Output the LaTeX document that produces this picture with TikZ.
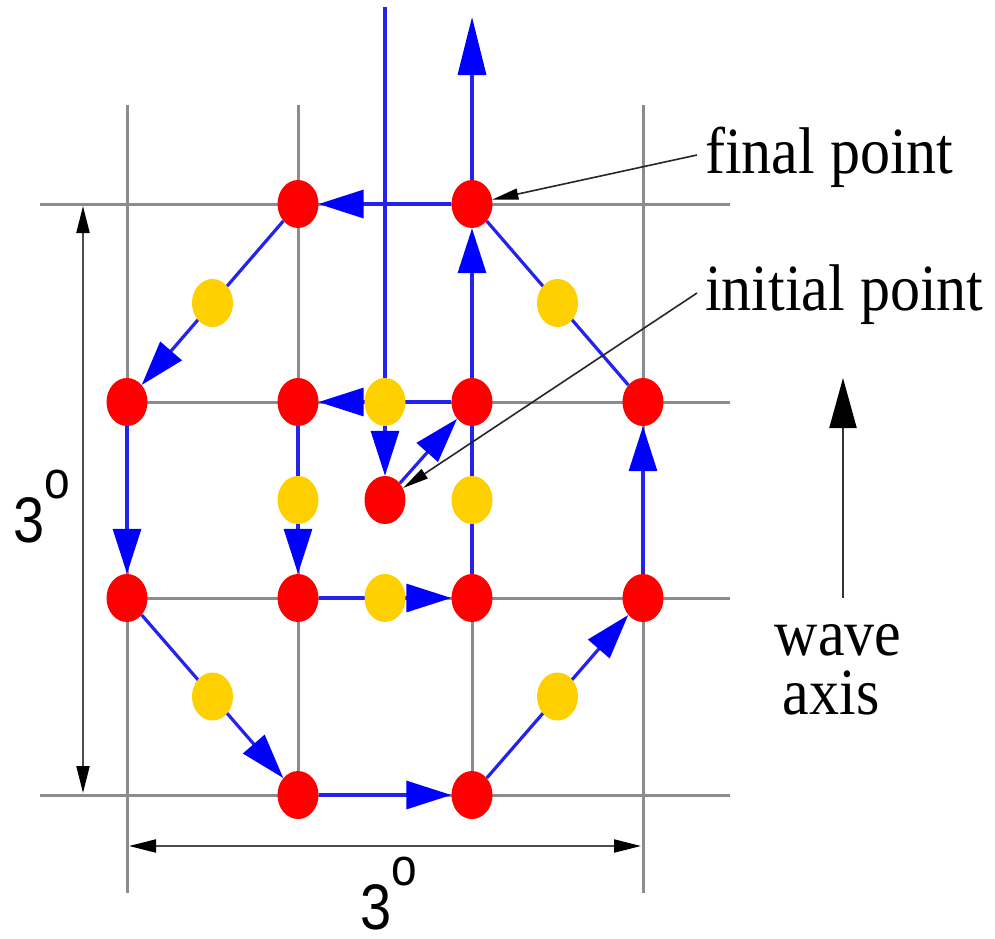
\documentclass[tikz,border=0pt]{standalone}
\usepackage{fontspec}
\setmainfont{Liberation Serif}
\newfontfamily\lsans{Liberation Sans}
\usetikzlibrary{arrows.meta,backgrounds,shapes.geometric}

\definecolor{gridgray}{RGB}{140,140,140}
\definecolor{dotred}{RGB}{255,0,0}
\definecolor{dotyellow}{RGB}{255,208,0}
\definecolor{pathblue}{RGB}{35,35,235}
\definecolor{tipblue}{RGB}{0,0,255}

\newcommand{\labfont}{\fontsize{60}{66}\selectfont}
\newcommand{\vstretch}[1]{\scalebox{1}[1.1]{#1}}
\newcommand{\threedeg}{\scalebox{1}[1.15]{\lsans\fontsize{56}{60}\selectfont 3\raisebox{38pt}{\fontsize{46}{50}\selectfont o}}}

\begin{document}
\begin{tikzpicture}[x=1pt,y=-1pt,
  dotbase/.style={ellipse, minimum width=41pt, minimum height=48pt, inner sep=0pt},
  reddot/.style={dotbase, fill=dotred},
  yeldot/.style={dotbase, fill=dotyellow},
  gridline/.style={gridgray, line width=3pt},
  bluepath/.style={pathblue, line width=3.2pt},
  bluearrow/.style={bluepath, -{Triangle[length=45pt,width=28pt,color=tipblue]}},
  bigbluearrow/.style={bluepath, -{Triangle[length=58pt,width=28pt,color=tipblue]}},
  leader/.style={black!85, line width=1.6pt, -{Triangle[length=26pt,width=11pt,color=black]}},
  axisarrow/.style={black!80, line width=2.2pt, -{Triangle[length=50pt,width=27pt,color=black]}},
  dimarrow/.style={black!70, line width=2pt, {Triangle[length=27pt,width=13pt,color=black]}-{Triangle[length=27pt,width=13pt,color=black]}},
  textlab/.style={font=\labfont, inner sep=0pt}
]
\useasboundingbox (0,0) rectangle (995,938);

% red dots
\node[reddot] (a1) at (298,204) {};
\node[reddot] (a2) at (472,204) {};
\node[reddot] (b0) at (127,402) {};
\node[reddot] (b1) at (298,402) {};
\node[reddot] (b2) at (472,402) {};
\node[reddot] (b3) at (643,402) {};
\node[reddot] (c)  at (385,500) {};
\node[reddot] (d0) at (127,598) {};
\node[reddot] (d1) at (298,598) {};
\node[reddot] (d2) at (472,598) {};
\node[reddot] (d3) at (643,598) {};
\node[reddot] (e1) at (298,795) {};
\node[reddot] (e2) at (472,795) {};

% yellow dots
\node[yeldot] (y1) at (212.5,303) {};
\node[yeldot] (y2) at (557.5,303) {};
\node[yeldot] (y3) at (385,402) {};
\node[yeldot] (y4) at (298,500) {};
\node[yeldot] (y5) at (472,500) {};
\node[yeldot] (y6) at (385,598) {};
\node[yeldot] (y7) at (212.5,696.5) {};
\node[yeldot] (y8) at (557.5,696.5) {};

% free ends
\coordinate (top1) at (385,7);
\coordinate (top2) at (472,17);

\begin{scope}[on background layer]
  % grid
  \draw[gridline] (127,105) -- (127,893);
  \draw[gridline] (298,105) -- (298,795);
  \draw[gridline] (472,598) -- (472,795);
  \draw[gridline] (643,105) -- (643,893);
  \draw[gridline] (40,204) -- (730,204);
  \draw[gridline] (127,402) -- (730,402);
  \draw[gridline] (127,598) -- (730,598);
  \draw[gridline] (40,795) -- (730,795);
  % blue path
  \draw[bluearrow] (top1) -- (c);
  \draw[bluearrow] (c) -- (b2);
  \draw[bluearrow] (b2) -- (b1);
  \draw[bluearrow] (b1) -- (d1);
  \draw[bluearrow] (d1) -- (d2);
  \draw[bluepath]  (d2) -- (b2);
  \draw[bluearrow] (b2) -- (a2);
  \draw[bluearrow] (a2) -- (a1);
  \draw[bluearrow] (a1) -- (b0);
  \draw[bluearrow] (b0) -- (d0);
  \draw[bluearrow] (d0) -- (e1);
  \draw[bluearrow] (e1) -- (e2);
  \draw[bluearrow] (e2) -- (d3);
  \draw[bluearrow] (d3) -- (b3);
  \draw[bluepath]  (b3) -- (a2);
  \draw[bigbluearrow] (a2) -- (top2);
\end{scope}

% labels
\node[textlab, anchor=base west] (fintext) at (705,173) {\vstretch{final point}};
\node[textlab, anchor=base west] (initext) at (705,310) {\vstretch{initial point}};
\coordinate (finlead) at (697,155);
\coordinate (inilead) at (697,293);
\draw[leader] (finlead) -- (a2);
\draw[leader] (inilead) -- (c);

% wave axis
\coordinate (wbot) at (843,598);
\coordinate (wtop) at (843,378);
\draw[axisarrow] (wbot) -- (wtop);
\node[textlab, anchor=base] (wave) at (838,655) {\vstretch{wave}};
\node[textlab, anchor=base] (axis) at (831,714) {\vstretch{axis}};

% dimensions
\coordinate (lt) at (83,206);
\coordinate (lb) at (83,793);
\draw[dimarrow] (lt) -- (lb);
\coordinate (bl) at (129,846);
\coordinate (br) at (641,846);
\draw[dimarrow] (bl) -- (br);
\node[inner sep=0pt, anchor=base west] (ldim) at (13,542) {\threedeg};
\node[inner sep=0pt, anchor=base west] (bdim) at (360,929) {\threedeg};
\end{tikzpicture}
\end{document}
